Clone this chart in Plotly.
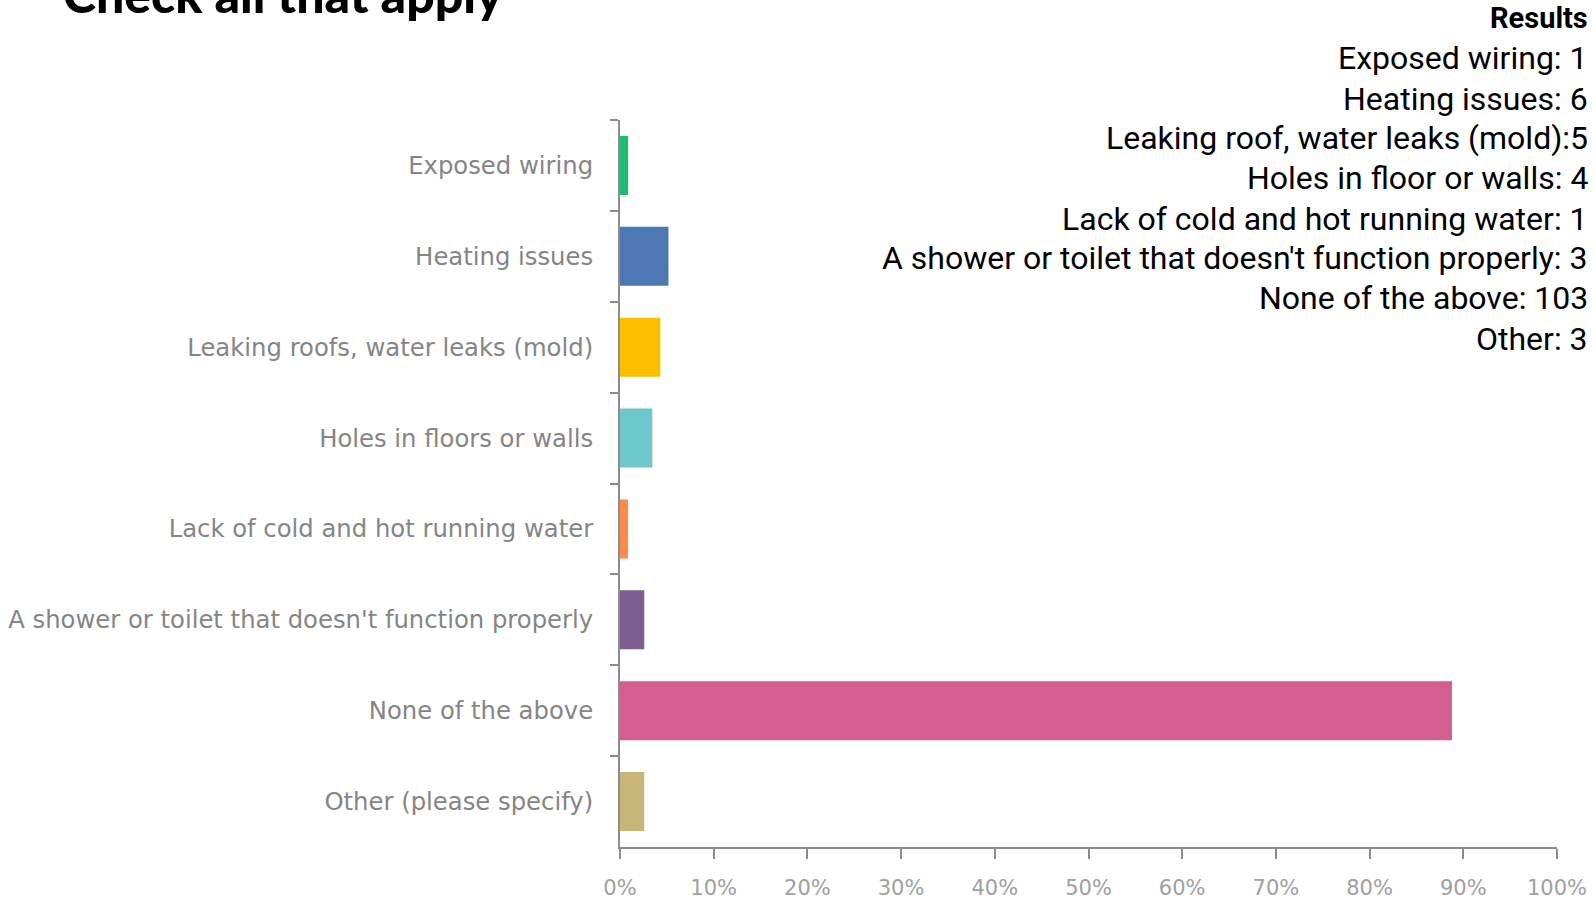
import plotly.graph_objects as go

categories = ['Exposed wiring', 'Heating issues', 'Leaking roofs, water leaks (mold)',
              'Holes in floors or walls', 'Lack of cold and hot running water',
              "A shower or toilet that doesn't function properly", 'None of the above',
              'Other (please specify)']
percents = [0.86, 5.17, 4.31, 3.45, 0.86, 2.59, 88.79, 2.59]
colors = ['#1BBE6E', '#4D78B4', '#FBBF00', '#6CC8CA', '#FF8A4C', '#7D5E92', '#D45E8F', '#C8B679']

results = ['Exposed wiring: 1', 'Heating issues: 6', 'Leaking roof, water leaks (mold):5',
           'Holes in floor or walls: 4', 'Lack of cold and hot running water: 1',
           "A shower or toilet that doesn't function properly: 3", 'None of the above: 103',
           'Other: 3']

fig = go.Figure(go.Bar(x=percents, y=categories, orientation='h',
                       marker=dict(color=colors, line=dict(width=0)), width=0.65))

# plot area in page pixels
X0, X1, Y0, Y1 = 620, 1557, 120, 847
def px(p):
    return (p - X0) / (X1 - X0)
def py(p):
    return (Y1 - p) / (Y1 - Y0)

annots = [dict(text='Check all that apply', x=px(61), xref='paper', xanchor='left',
               y=py(-6), yref='paper', yanchor='middle', showarrow=False,
               font=dict(family='Lato', size=50, color='black', weight=900)),
          dict(text='<b>Results</b>', x=px(1590), xref='paper', xanchor='right',
               y=py(18), yref='paper', yanchor='middle', showarrow=False,
               font=dict(family='Roboto', size=29, color='black'))]
ys = [58, 99, 138, 178, 219, 258, 298, 339]
for t, yy in zip(results, ys):
    annots.append(dict(text=t, x=px(1590), xref='paper', xanchor='right',
                       y=py(yy), yref='paper', yanchor='middle', showarrow=False,
                       font=dict(family='Roboto', size=32, color='black')))

fig.update_layout(width=1595, height=903,
                  margin=dict(l=X0, r=1595 - X1, t=Y0, b=903 - Y1),
                  plot_bgcolor='white', paper_bgcolor='white', showlegend=False,
                  annotations=annots)
fig.update_xaxes(range=[0, 100], dtick=10, ticksuffix='%', showgrid=False, zeroline=False,
                 showline=True, linecolor='#8c8c8c', linewidth=2, ticks='outside', ticklen=10,
                 tickcolor='#8c8c8c', tickwidth=1.5, ticklabelstandoff=11, automargin=False,
                 ticklabeloverflow='allow',
                 tickfont=dict(family='DejaVu Sans', size=21, color='#a0a0a0'))
fig.update_yaxes(autorange='reversed', showgrid=False, showline=True, linecolor='#8c8c8c',
                 linewidth=2, ticks='outside', tickson='boundaries', ticklen=8,
                 tickcolor='#8c8c8c', tickwidth=1.5, ticklabelstandoff=20, automargin=False,
                 tickfont=dict(family='DejaVu Sans', size=24.3, color='#858585'))

# drop the default body margin so the 1595x903 figure fills the window
fig.write_html('out.html', config={'displayModeBar': False},
               post_script="document.body.style.margin='0';")
